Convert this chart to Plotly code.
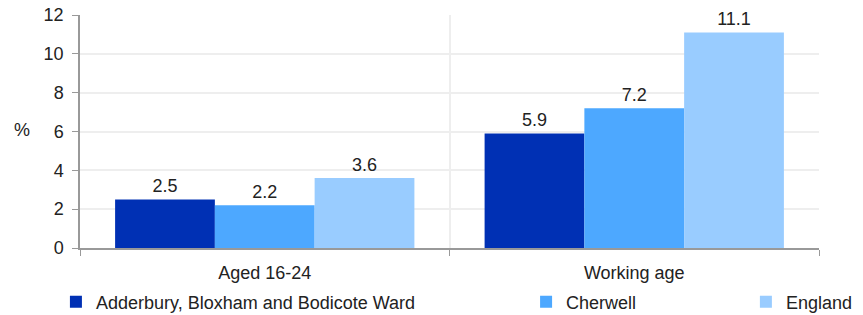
import plotly.graph_objects as go

categories = ["Aged 16-24", "Working age"]
series_names = ["Adderbury, Bloxham and Bodicote Ward", "Cherwell", "England"]
ward_values = [2.5, 5.9]
cherwell_values = [2.2, 7.2]
england_values = [3.6, 11.1]
y_ticks = [0, 2, 4, 6, 8, 10, 12]

colors = ["#0030B4", "#4DA8FF", "#99CCFF"]
values = [ward_values, cherwell_values, england_values]
legends = ["legend", "legend2", "legend3"]

FS = 18
fig = go.Figure()
for name, vals, col, lg in zip(series_names, values, colors, legends):
    fig.add_trace(go.Bar(
        x=categories, y=vals, name=name, marker=dict(color=col, line=dict(width=0)),
        text=[f"{v:.1f}" for v in vals], textposition="outside",
        textfont=dict(size=FS, color="#222222"), cliponaxis=False, legend=lg,
    ))

font = dict(family="Liberation Sans, Arial, sans-serif", size=FS, color="#222222")
leg_common = dict(orientation="h", yref="container", y=0.0413, yanchor="middle",
                  xref="container", xanchor="left", font=font, bgcolor="rgba(0,0,0,0)",
                  itemwidth=30)

fig.update_layout(
    width=863, height=315,
    margin=dict(l=80, r=44, t=15, b=67, autoexpand=False),
    plot_bgcolor="white", paper_bgcolor="white",
    font=font,
    barmode="group", bargap=0.19, bargroupgap=0,
    showlegend=True,
    legend=dict(x=0.0648, **leg_common),
    legend2=dict(x=0.6096, **leg_common),
    legend3=dict(x=0.8643, **leg_common),
    xaxis=dict(tickson="boundaries", ticks="outside", ticklen=6, tickcolor="#999999",
               showline=True, linecolor="#999999", linewidth=1.5,
               showgrid=True, gridcolor="#eeeeee", gridwidth=2,
               ticklabelstandoff=8, ticklabeloverflow="allow"),
    yaxis=dict(range=[0, 12], tickvals=y_ticks, ticks="outside", ticklen=6,
               tickcolor="#999999", showline=True, linecolor="#999999", linewidth=1.5,
               showgrid=True, gridcolor="#eeeeee", gridwidth=2, zeroline=False,
               ticklabelstandoff=5, ticklabeloverflow="allow"),
    annotations=[dict(text="%", xref="paper", yref="paper", x=-0.078, y=0.505,
                      xanchor="center", yanchor="middle", showarrow=False, font=font)],
)

# remove the browser's default 8px body margin so the figure fills the window
fig.write_html("out.html", config={"displayModeBar": False},
               post_script="document.body.style.margin='0';")
